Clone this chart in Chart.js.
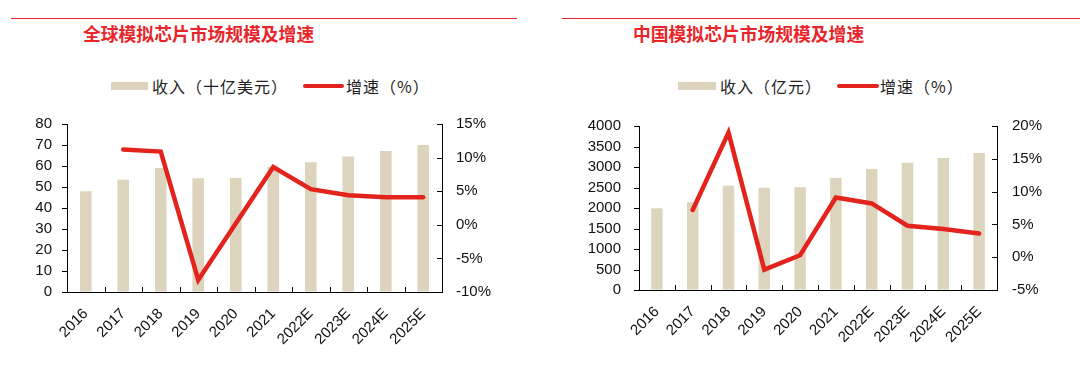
<!DOCTYPE html>
<html>
<head>
<meta charset="utf-8">
<script src="https://cdn.jsdelivr.net/npm/chart.js@4.4.1/dist/chart.umd.min.js"></script>
<style>
  body { margin: 0; background: #fff; width: 1080px; height: 367px; position: relative; overflow: hidden; font-family: "Noto Sans CJK SC", sans-serif; }
  .rule { position: absolute; top: 18px; height: 1px; background: #e8262a; }
  .title { position: absolute; top: 21px; font-size: 17.8px; font-weight: bold; color: #e8262a; line-height: 24px; white-space: nowrap; }
  .legend { position: absolute; top: 76px; height: 20px; font-size: 16px; color: #222; white-space: nowrap; letter-spacing: 1px; }
  .legend span { position: absolute; top: 0; line-height: 20px; }
  .swatch-bar { position: absolute; top: 6px; height: 8px; background: #ddd4bd; }
  .swatch-line { position: absolute; top: 8px; height: 4px; border-radius: 2px; background: #e3231d; }
  .box { position: absolute; top: 110px; width: 540px; height: 257px; }
</style>
</head>
<body>
<div class="rule" style="left:11px;width:506px"></div>
<div class="rule" style="left:562px;width:518px"></div>
<div class="title" style="left:83px">全球模拟芯片市场规模及增速</div>
<div class="title" style="left:633px">中国模拟芯片市场规模及增速</div>

<div class="legend" style="left:0;width:540px">
  <div class="swatch-bar" style="left:111px;width:37px"></div>
  <span style="left:152px">收入（十亿美元）</span>
  <div class="swatch-line" style="left:303px;width:41px"></div>
  <span style="left:346px">增速（%）</span>
</div>
<div class="legend" style="left:540px;width:540px">
  <div class="swatch-bar" style="left:138px;width:38px"></div>
  <span style="left:180px">收入（亿元）</span>
  <div class="swatch-line" style="left:297px;width:42px"></div>
  <span style="left:340px">增速（%）</span>
</div>

<div class="box" style="left:0"><canvas id="chartGlobal"></canvas></div>
<div class="box" style="left:540px"><canvas id="chartChina"></canvas></div>

<script>
const years = ["2016", "2017", "2018", "2019", "2020", "2021", "2022E", "2023E", "2024E", "2025E"];

const globalRevenue = [48, 53.4, 59, 54.2, 54.3, 59.5, 61.8, 64.5, 67.2, 70];
const globalGrowth = [null, 11.2, 10.9, -8.2, 0.2, 8.6, 5.3, 4.4, 4.1, 4.1];

const chinaRevenue = [1992, 2138, 2545, 2496, 2504, 2732, 2951, 3106, 3220, 3341];
const chinaGrowth = [null, 7.2, 19.0, -1.9, 0.3, 9.1, 8.2, 4.8, 4.3, 3.6];

const barColor = "#ddd4bd";
const lineColor = "#e3231d";
const textColor = "#111";
const tickFont = { family: "'Liberation Sans', Arial, sans-serif", size: 15 };

// axis tick marks: left axis outward, right axis and x axis inward
const axisTicks = {
  id: "axisTicks",
  afterDraw(chart) {
    const ctx = chart.ctx;
    const { x, y, y1 } = chart.scales;
    const len = 5;
    ctx.save();
    ctx.strokeStyle = "#000";
    ctx.lineWidth = 1;
    ctx.beginPath();
    for (let i = 1; i < years.length; i++) {
      const px = Math.round((x.getPixelForValue(i - 1) + x.getPixelForValue(i)) / 2) + 0.5;
      ctx.moveTo(px, x.top);
      ctx.lineTo(px, x.top - len);
    }
    y.ticks.forEach((t) => {
      const py = Math.round(y.getPixelForValue(t.value)) + 0.5;
      ctx.moveTo(y.right, py);
      ctx.lineTo(y.right - len, py);
    });
    y1.ticks.forEach((t) => {
      const py = Math.round(y1.getPixelForValue(t.value)) + 0.5;
      ctx.moveTo(y1.left, py);
      ctx.lineTo(y1.left - len, py);
    });
    ctx.stroke();
    ctx.restore();
  }
};

function buildChart(id, revenue, growth, opts) {
  return new Chart(document.getElementById(id), {
    type: "bar",
    data: {
      labels: years,
      datasets: [
        {
          type: "line",
          data: growth,
          yAxisID: "y1",
          borderColor: lineColor,
          borderWidth: 4.5,
          borderCapStyle: "round",
          pointRadius: 0,
          tension: 0,
          order: 1
        },
        {
          type: "bar",
          data: revenue,
          yAxisID: "y",
          backgroundColor: barColor,
          barPercentage: opts.barPct,
          categoryPercentage: 1,
          order: 2
        }
      ]
    },
    options: {
      responsive: true,
      maintainAspectRatio: false,
      animation: false,
      layout: { padding: { top: opts.top, left: 0, right: 0, bottom: 0 } },
      plugins: { legend: { display: false }, tooltip: { enabled: false } },
      scales: {
        x: {
          offset: true,
          afterFit: (s) => { s.height = opts.xHeight; },
          grid: { display: false },
          border: { display: true, color: "#000", width: 1 },
          ticks: { color: textColor, font: tickFont, minRotation: 45, maxRotation: 45, padding: 5, autoSkip: false }
        },
        y: {
          position: "left",
          min: 0,
          max: opts.yMax,
          afterFit: (s) => { s.width = opts.leftW; },
          grid: { display: true, drawOnChartArea: false, drawTicks: true, tickLength: opts.leftGap, tickColor: "rgba(0,0,0,0)" },
          border: { display: true, color: "#000", width: 1 },
          ticks: { stepSize: opts.yStep, autoSkip: false, color: textColor, font: tickFont, padding: 0, callback: (v) => String(v) }
        },
        y1: {
          position: "right",
          min: opts.pMin,
          max: opts.pMax,
          afterFit: (s) => { s.width = opts.rightW; },
          grid: { display: true, drawOnChartArea: false, drawTicks: true, tickLength: opts.rightGap, tickColor: "rgba(0,0,0,0)" },
          border: { display: true, color: "#000", width: 1 },
          ticks: { stepSize: 5, autoSkip: false, color: textColor, font: tickFont, padding: 0, callback: (v) => v + "%" }
        }
      }
    },
    plugins: [axisTicks]
  });
}

buildChart("chartGlobal", globalRevenue, globalGrowth, {
  top: 14, xHeight: 75, leftW: 67, rightW: 98, leftGap: 15, rightGap: 14,
  yMax: 80, yStep: 10, pMin: -10, pMax: 15, barPct: 0.31
});

buildChart("chartChina", chinaRevenue, chinaGrowth, {
  top: 16, xHeight: 77, leftW: 99, rightW: 83, leftGap: 18, rightGap: 15,
  yMax: 4000, yStep: 500, pMin: -5, pMax: 20, barPct: 0.32
});
</script>
</body>
</html>
